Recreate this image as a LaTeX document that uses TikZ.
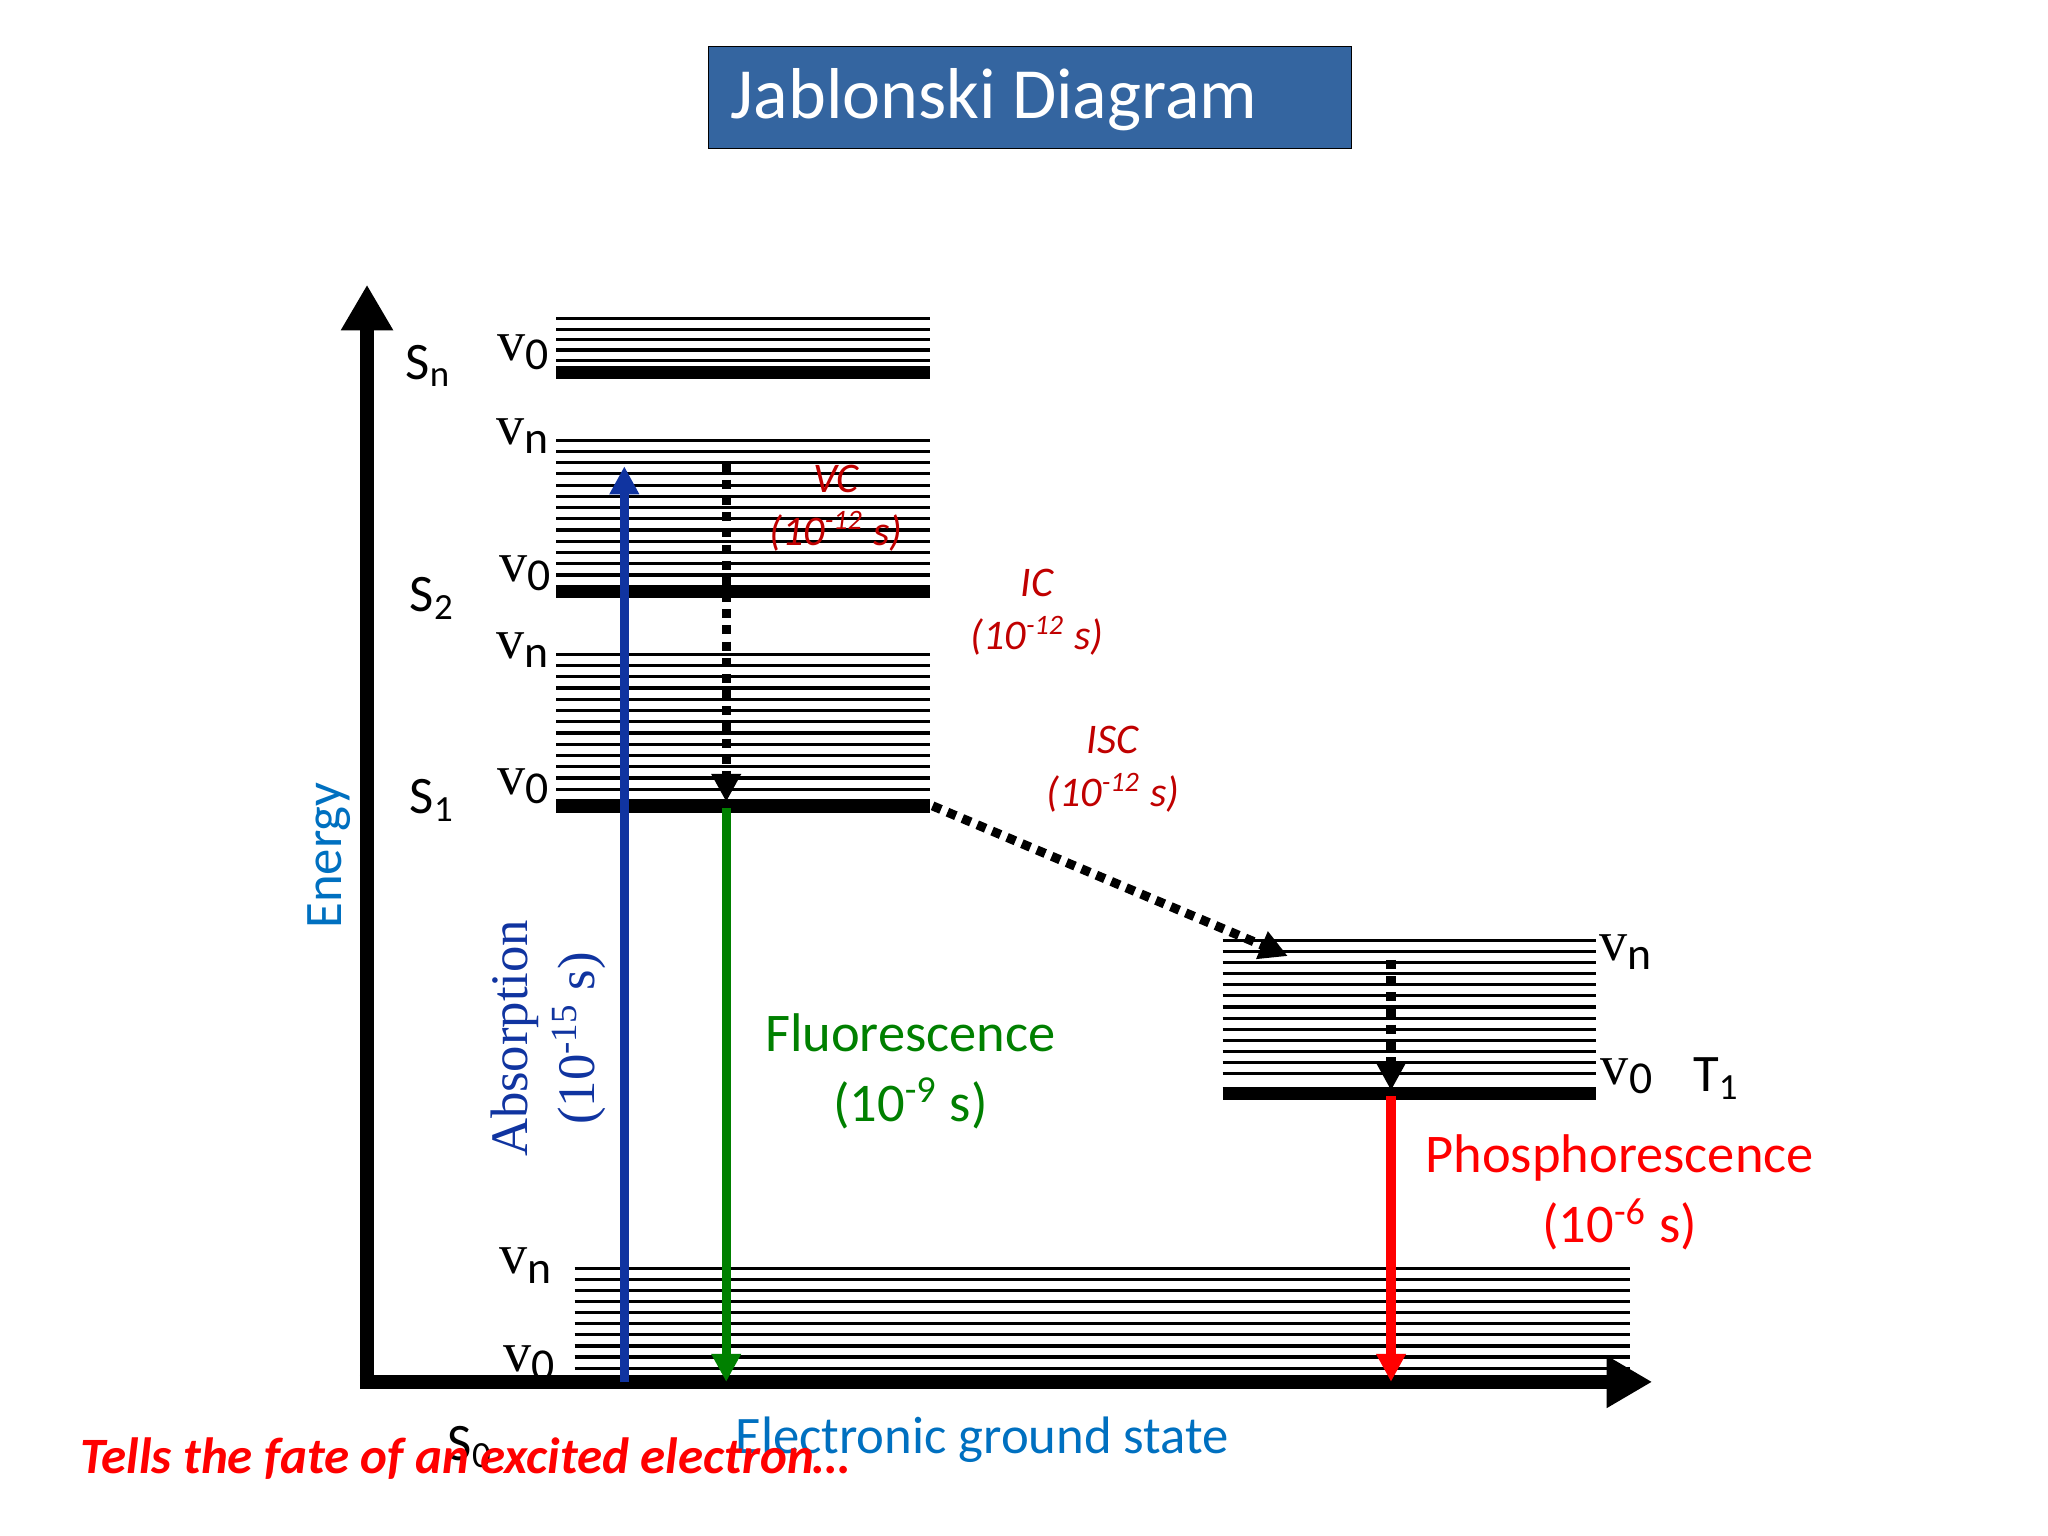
\documentclass[tikz,border=0pt]{standalone}
\usepackage{fontspec}
\setmainfont{Carlito}
\newfontfamily\serifv{Liberation Serif}
\usetikzlibrary{arrows.meta}
\definecolor{titleblue}{RGB}{52,101,160}
\definecolor{absblue}{RGB}{16,52,160}
\definecolor{enblue}{RGB}{0,112,192}
\definecolor{fgreen}{RGB}{0,128,0}
\definecolor{dred}{RGB}{192,0,0}
\newcommand{\vsub}[1]{v\textsubscript{\fontsize{13}{15}\selectfont\rmfamily #1}}
\tikzset{
 thinlev/.style={line width=0.9pt},
 thicklev/.style={line width=3.8pt},
 lbl/.style={font=\fontsize{15}{17}\selectfont},
 vlbl/.style={font=\serifv\fontsize{16}{18}\selectfont},
 small/.style={font=\itshape\fontsize{12}{15}\selectfont, text=dred, align=center},
 axis/.style={line width=4pt,-{Triangle[length=13pt,width=14pt]}},
 tr/.style={line width=2.6pt,-{Triangle[length=8pt,width=8pt]}},
 dot/.style={line width=2.6pt,dotted,-{Triangle[length=8pt,width=8pt]}},
}
\begin{document}
\begin{tikzpicture}[x=0.013061cm,y=-0.013061cm]
\useasboundingbox (0,0) rectangle (1568,1176);
% title
\node[draw=black,fill=titleblue,minimum width=492*0.013061cm,minimum height=78*0.013061cm,anchor=north west,inner sep=0] (title) at (542,35) {};
\node[anchor=west,text=white,font=\fontsize{20.5}{24}\selectfont] (tt) at (550,76) {Jablonski Diagram};
% levels
\foreach \y in {244,252,260,268,276} \draw[thinlev] (426,\y) -- (712,\y);
\draw[thicklev] (426,285) -- (712,285);
\foreach \i in {0,...,12} \draw[thinlev] (426,337+\i*8.6) -- (712,337+\i*8.6);
\draw[thicklev] (426,453) -- (712,453);
\foreach \i in {0,...,12} \draw[thinlev] (426,501+\i*8.6) -- (712,501+\i*8.6);
\draw[thicklev] (426,617) -- (712,617);
\foreach \i in {0,...,12} \draw[thinlev] (936,720+\i*8.5) -- (1222,720+\i*8.5);
\draw[thicklev] (936,837) -- (1222,837);
\foreach \i in {0,...,9} \draw[thinlev] (440,971+\i*8.5) -- (1248,971+\i*8.5);
% axes
\coordinate (O) at (281,1058);
\coordinate (Ytop) at (281,218);
\coordinate (Xend) at (1265,1058);
\draw[axis] (O) -- (Ytop);
\draw[axis] ([xshift=-2pt]O) -- (Xend);
% state labels
\node[lbl] (sn) at (328,280) {S\textsubscript{n}};
\node[lbl] (s2) at (331,458) {S\textsubscript{2}};
\node[lbl] (s1) at (331,613) {S\textsubscript{1}};
\node[lbl] (t1) at (1314,826) {T\textsubscript{1}};
\node[lbl] (s0) at (360,1108) {S\textsubscript{0}};
\node[vlbl] (l1) at (401,270) {\vsub{0}};
\node[vlbl] (l2) at (401,334) {\vsub{n}};
\node[vlbl] (l3) at (403,439) {\vsub{0}};
\node[vlbl] (l4) at (401,498) {\vsub{n}};
\node[vlbl] (l5) at (401,602) {\vsub{0}};
\node[vlbl] (l6) at (1245,729) {\vsub{n}};
\node[vlbl] (l7) at (1246,824) {\vsub{0}};
\node[vlbl] (l8) at (403,969) {\vsub{n}};
\node[vlbl] (l9) at (406,1044) {\vsub{0}};
% transitions
\coordinate (a0) at (478,1058); \coordinate (a1) at (478,357);
\draw[tr,absblue] (a0) -- (a1);
\coordinate (f0) at (556,619); \coordinate (f1) at (556,1058);
\draw[tr,fgreen] (f0) -- (f1);
\coordinate (vc0) at (556,355); \coordinate (vc1) at (556,614);
\draw[dot] (vc0) -- (vc1);
\coordinate (i0) at (714,617); \coordinate (i1) at (986,732);
\draw[dot] (i0) -- (i1);
\coordinate (t0) at (1065,735); \coordinate (t1e) at (1065,835);
\draw[dot] (t0) -- (t1e);
\coordinate (p0) at (1065,839); \coordinate (p1) at (1065,1058);
\draw[tr,red] (p0) -- (p1);
% texts
\node[lbl,text=enblue,rotate=90] (en) at (252,655) {Energy};
\node[font=\serifv\fontsize{15}{19}\selectfont,text=absblue,rotate=90,align=center] (ab) at (420,795) {Absorption\\(10\textsuperscript{-15} s)};
\node[font=\fontsize{15.5}{20}\selectfont,text=fgreen,align=center] (fl) at (697,820) {Fluorescence\\(10\textsuperscript{-9} s)};
\node[font=\fontsize{15.5}{20}\selectfont,text=red,align=center] (ph) at (1240,913) {Phosphorescence\\(10\textsuperscript{-6} s)};
\node[small] (vc) at (640,389) {VC\\(10\textsuperscript{-12} s)};
\node[small] (ic) at (794,469) {IC\\(10\textsuperscript{-12} s)};
\node[small] (isc) at (852,589) {ISC\\(10\textsuperscript{-12} s)};
\node[lbl,text=enblue] (gs) at (752,1102) {Electronic ground state};
\node[anchor=west,text=red,font=\bfseries\itshape\fontsize{14.5}{17}\selectfont] (tell) at (52,1117) {Tells the fate of an excited electron…};
\end{tikzpicture}
\end{document}
